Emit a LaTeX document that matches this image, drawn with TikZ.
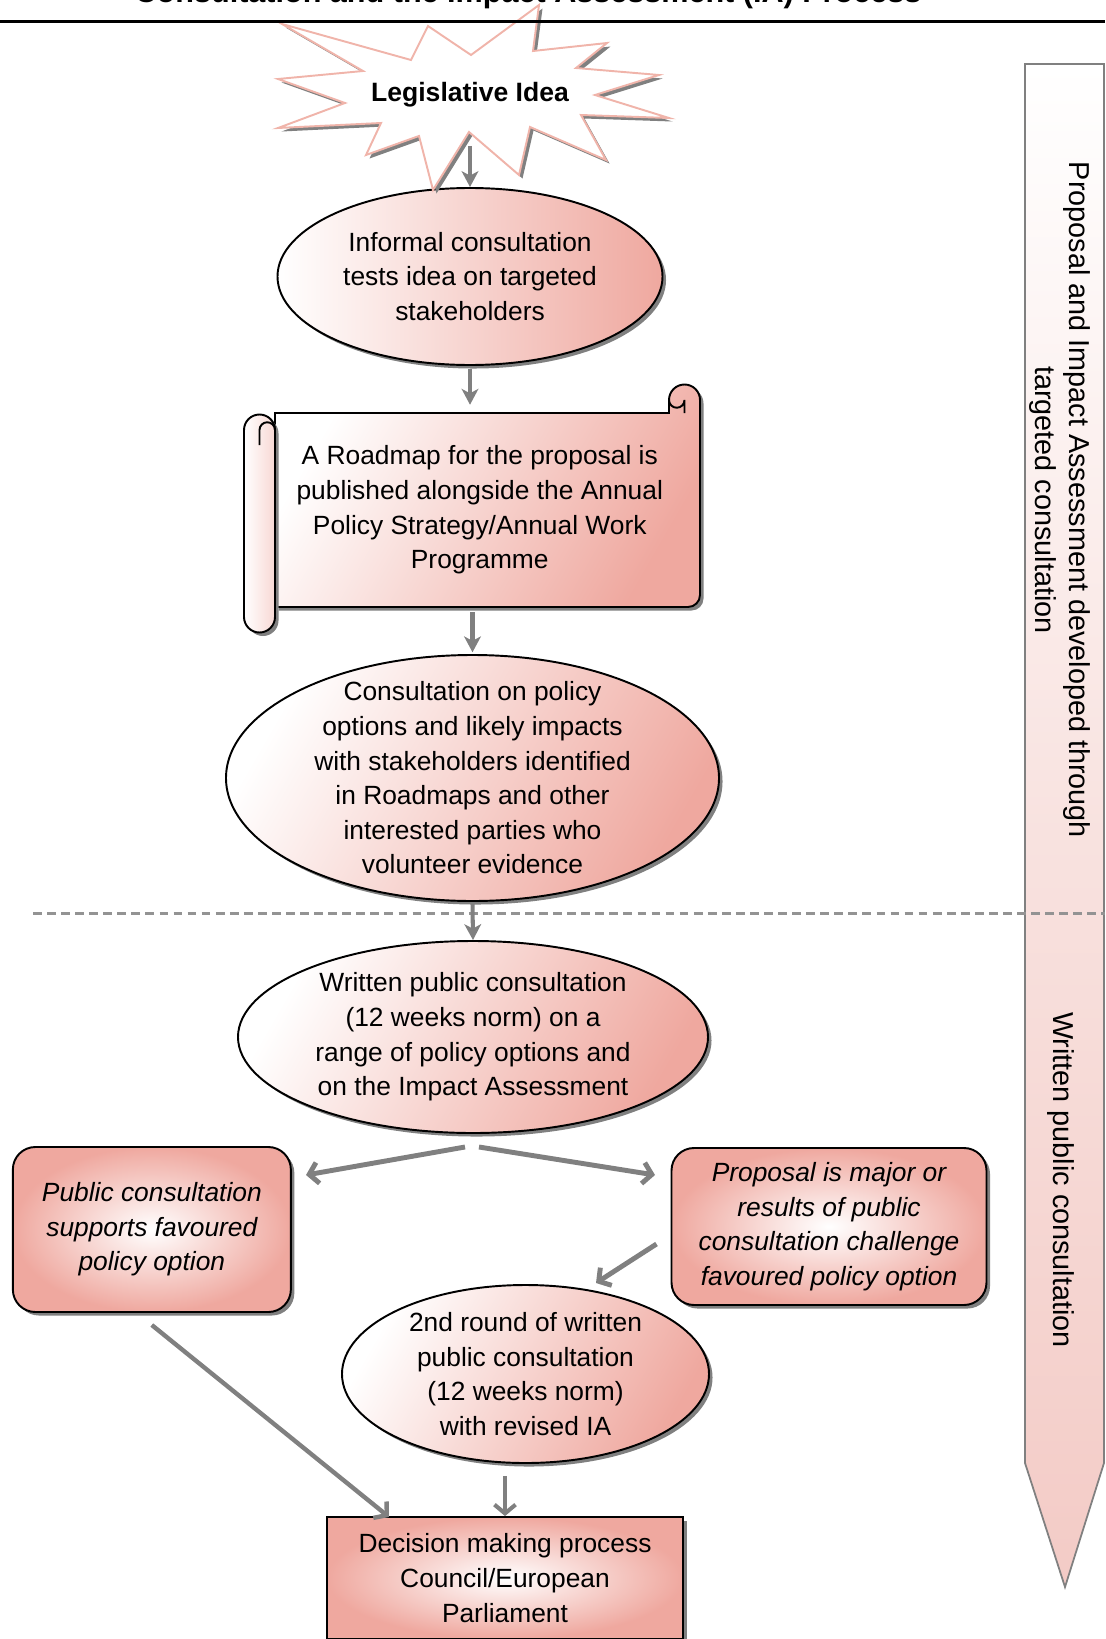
\documentclass[tikz,border=0pt]{standalone}
\usepackage{fontspec}
\setmainfont{Liberation Sans}
\usepackage{xcolor}
\usetikzlibrary{shapes.geometric,shadows,arrows.meta,calc,positioning}

\definecolor{salm}{HTML}{EFA89F}
\definecolor{burstline}{HTML}{F0B4AA}
\definecolor{flowgray}{HTML}{808080}
\definecolor{sidepink}{HTML}{F3CBC6}

\tikzset{
  txt/.style={align=center, font=\fontsize{15}{19.7}\selectfont},
  sidetxt/.style={align=center, rotate=-90, font=\fontsize{16.4}{19.7}\selectfont},
  boxshadow/.style={drop shadow={shadow xshift=2pt, shadow yshift=-2pt, fill=flowgray, opacity=1}},
  bubble/.style={ellipse, draw, line width=1.1pt, txt, inner sep=-1cm, boxshadow,
    left color=white, right color=salm, shading angle=60},
  choice/.style={rectangle, rounded corners=0.45cm, draw, line width=1.1pt, boxshadow, inner sep=0pt,
    inner color=white, outer color=salm, align=center, font=\fontsize{15}{19.7}\selectfont\itshape},
  decisionbox/.style={rectangle, draw, line width=1.1pt, boxshadow, inner sep=0pt,
    inner color=white, outer color=salm, txt},
  flow/.style={draw=flowgray, line width=2.3pt, -{Stealth[length=9pt,width=9.5pt,inset=2.5pt]}},
  fork/.style={draw=flowgray, line width=2.8pt, -{Straight Barb[length=5pt,width=12pt]}}
}

\begin{document}
\begin{tikzpicture}[x=0.2mm, y=-0.2mm]
  \useasboundingbox (0,0) rectangle (1105,1639);
  \clip (0,0) rectangle (1105,1639);

  % Titel (oben abgeschnitten)
  \node[anchor=base, font=\fontsize{17.4}{21}\selectfont\bfseries] (title) at (528,3)
    {Consultation and the Impact Assessment (IA) Process};

  % Pfeil rechts
  \draw[draw=flowgray, line width=1pt, top color=white, bottom color=sidepink, middle color=white!45!sidepink]
    (1025,64) -- (1104,64) -- (1104,1463) -- (1065,1587) -- (1025,1463) -- cycle;
  \node[sidetxt] (phaseone) at (1060,500) {Proposal and Impact Assessment developed through\\targeted consultation};
  \node[sidetxt] (phasetwo) at (1061,1180) {Written public consultation};

  % Trennlinie
  \draw[draw=flowgray!85, line width=1.7pt, dash pattern=on 5pt off 3pt] (33,913) -- (1105,913);

  % Informelle Konsultation
  \node[bubble, minimum width=7.7cm, minimum height=3.54cm, shading angle=90] (informal) at (470,276.5)
    {Informal consultation\\tests idea on targeted\\stakeholders};

  % Explosion
  \draw[draw=burstline, line width=1.1pt, fill=white, boxshadow]
    (282,24) -- (411,60) -- (428,26) -- (471,55) -- (539,5) -- (533,51) -- (607,43) -- (576,68)
    -- (659,75) -- (595,95) -- (669,118) -- (581,115) -- (606,160) -- (530,127) -- (519,175)
    -- (469,132) -- (433,190) -- (419,136) -- (366,155) -- (381,123) -- (278,128) -- (345,103)
    -- (278,79) -- (363,71) -- cycle;
  \node[font=\fontsize{15.1}{18}\selectfont\bfseries] (idea) at (470,95) {Legislative Idea};

  \draw[line width=1.4pt] (0,21.5) -- (1105,21.5);

  % Schriftrolle
  \draw[line width=1.1pt, boxshadow, left color=white, right color=salm, shading angle=60]
    (275,413) -- (669,413) -- (669,400) arc (180:360:15.5) -- (700,595) arc (0:90:12)
    -- (275,607) -- cycle;
  \draw[line width=1.1pt] (669,400) arc (180:0:7.75) -- (684.5,413);
  \draw[line width=1.1pt, boxshadow, left color=white, right color=salm!45]
    (244,430) arc (180:360:15.5) -- (275,617) arc (0:180:15.5) -- cycle;
  \draw[line width=1.1pt] (259.5,445) -- (259.5,430) arc (180:360:7.75);
  \node[txt, minimum width=8.81cm, minimum height=3.88cm, inner sep=0pt] (roadmap) at (479.75,510)
    {A Roadmap for the proposal is\\published alongside the Annual\\Policy Strategy/Annual Work\\Programme};

  % Ellipsen
  \node[bubble, minimum width=9.86cm, minimum height=4.92cm] (options) at (472.5,778)
    {Consultation on policy\\options and likely impacts\\with stakeholders identified\\in Roadmaps and other\\interested parties who\\volunteer evidence};
  \node[bubble, minimum width=9.4cm, minimum height=3.84cm] (written) at (473,1037)
    {Written public consultation\\(12 weeks norm) on a\\range of policy options and\\on the Impact Assessment};

  % Kaesten
  \node[choice, minimum width=5.56cm, minimum height=3.3cm] (supports) at (151.85,1229.5)
    {Public consultation\\supports favoured\\policy option};
  \node[choice, minimum width=6.3cm, minimum height=3.14cm] (major) at (829,1226.5)
    {Proposal is major or\\results of public\\consultation challenge\\favoured policy option};
  \node[bubble, minimum width=7.34cm, minimum height=3.56cm] (second) at (525.5,1374)
    {2nd round of written\\public consultation\\(12 weeks norm)\\with revised IA};
  \node[decisionbox, minimum width=7.12cm, minimum height=2.44cm] (decision) at (505,1578)
    {Decision making process\\Council/European\\Parliament};

  % Pfeile
  \coordinate (forkL) at (465,1147);
  \coordinate (forkR) at (479,1147);
  \coordinate (supportsIn) at (306,1175);
  \coordinate (majorIn) at (655,1175);
  \coordinate (majorOut) at (656.5,1244);
  \coordinate (secondIn) at (596,1283);
  \coordinate (supportsOut) at (151.8,1325);
  \coordinate (decisionIn) at (389,1517);

  \draw[flow] ($(idea.center)+(0,51)$) -- (informal.north);
  \draw[flow, shorten >=4.5pt] ($(informal.south)+(0,3)$) -- (informal.south |- roadmap.north);
  \draw[flow, shorten >=1pt] ($(options.north |- roadmap.south)+(0,5)$) -- (options.north);
  \draw[flow] ($(options.south)+(0,2)$) -- (written.north);
  \draw[fork] (forkL) -- (supportsIn);
  \draw[fork] (forkR) -- (majorIn);
  \draw[fork] (majorOut) -- (secondIn);
  \draw[fork, line width=2.5pt] (supportsOut) -- (decisionIn);
  \draw[fork, line width=2.3pt] ($(decision.north |- second.south)+(0,12)$) -- (decision.north);
\end{tikzpicture}
\end{document}
